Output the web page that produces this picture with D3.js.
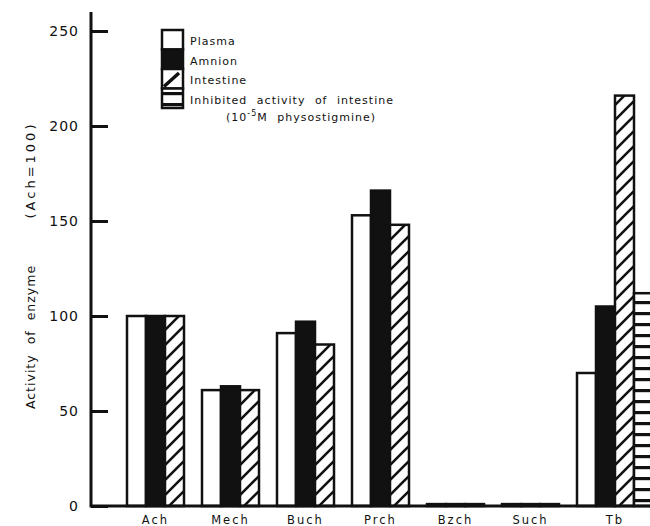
<!DOCTYPE html>
<html>
<head>
<meta charset="utf-8">
<script src="https://cdn.jsdelivr.net/npm/d3@7"></script>
<style>
  body { margin: 0; background: #fff; }
  text { font-family: "DejaVu Sans", sans-serif; fill: #111; }
</style>
</head>
<body>
<div id="chart"></div>
<script>
// chart data
var categories = ["Ach", "Mech", "Buch", "Prch", "Bzch", "Such", "Tb"];
var seriesNames = ["Plasma", "Amnion", "Intestine", "Inhibited activity of intestine"];
var plasma    = [100, 61, 91, 153, 1, 1, 70];
var amnion    = [100, 63, 97, 166, 1, 1, 105];
var intestine = [100, 61, 85, 148, 1, 1, 216];
var inhibited = [null, null, null, null, null, null, 112];
var yTicks = [0, 50, 100, 150, 200, 250];

var seriesValues = [plasma, amnion, intestine, inhibited];

var svgWidth = 650;
var svgHeight = 526;

var svg = d3.select("#chart")
  .append("svg")
  .attr("width", svgWidth)
  .attr("height", svgHeight);

// fill patterns: diagonal hatch and horizontal stripes
var defs = svg.append("defs");
defs.append("pattern")
  .attr("id", "diag")
  .attr("patternUnits", "userSpaceOnUse")
  .attr("width", 15).attr("height", 15)
  .call(p => {
    p.append("rect").attr("width", 15).attr("height", 15).attr("fill", "#fff");
    p.append("path")
      .attr("d", "M-2,17 L17,-2 M-4,4 L4,-4 M11,19 L19,11")
      .attr("stroke", "#111").attr("stroke-width", 2.6);
  });
defs.append("pattern")
  .attr("id", "horiz")
  .attr("patternUnits", "userSpaceOnUse")
  .attr("width", 10).attr("height", 11)
  .call(p => {
    p.append("rect").attr("width", 10).attr("height", 11).attr("fill", "#fff");
    p.append("rect").attr("y", 4).attr("width", 10).attr("height", 3.2).attr("fill", "#111");
  });

var fills = ["#fff", "#111", "url(#diag)", "url(#horiz)"];

// scales
var x0 = d3.scaleBand()
  .domain(categories)
  .range([127, 634])
  .paddingInner(0.24)
  .paddingOuter(0);

var x1 = d3.scaleBand()
  .domain(seriesNames)
  .range([0, x0.bandwidth() * 4 / 3]);

var y = d3.scaleLinear()
  .domain([0, 250])
  .range([506, 31]);

var axisX = 91;

// y axis with inward ticks
var yAxis = d3.axisLeft(y)
  .tickValues(yTicks)
  .tickSizeInner(-17)
  .tickSizeOuter(0)
  .tickPadding(12);

var yAxisG = svg.append("g")
  .attr("transform", `translate(${axisX},0)`)
  .call(yAxis);
yAxisG.select(".domain").remove();
yAxisG.selectAll(".tick line").attr("stroke", "#111").attr("stroke-width", 3);
yAxisG.selectAll(".tick text")
  .attr("fill", "#111")
  .style("font-size", "14px")
  .style("letter-spacing", "1px")
  .style("font-family", "DejaVu Sans, sans-serif");

// bars
categories.forEach(function(cat, i) {
  seriesValues.forEach(function(vals, s) {
    var v = vals[i];
    if (v == null) return;
    svg.append("rect")
      .attr("x", x0(cat) + x1(seriesNames[s]))
      .attr("y", y(v))
      .attr("width", x1.bandwidth())
      .attr("height", y(0) - y(v))
      .attr("fill", fills[s])
      .attr("stroke", "#111")
      .attr("stroke-width", 2.5);
  });
});

// axis lines
svg.append("line")
  .attr("x1", axisX).attr("x2", axisX)
  .attr("y1", y(0) + 1.5).attr("y2", 12)
  .attr("stroke", "#111").attr("stroke-width", 3);
svg.append("line")
  .attr("x1", axisX).attr("x2", svgWidth)
  .attr("y1", y(0)).attr("y2", y(0))
  .attr("stroke", "#111").attr("stroke-width", 3);

// category labels, centred under the bars that are drawn
svg.selectAll(".catLabel")
  .data(categories)
  .enter()
  .append("text")
  .attr("class", "catLabel")
  .attr("x", function(d, i) {
    var n = seriesValues.filter(vals => vals[i] != null).length;
    return x0(d) + n * x1.bandwidth() / 2;
  })
  .attr("y", 524)
  .attr("text-anchor", "middle")
  .style("font-size", "11.5px")
  .style("letter-spacing", "2px")
  .text(d => d);

// y axis title
svg.append("text")
  .attr("transform", "translate(35,170) rotate(-90)")
  .attr("text-anchor", "middle")
  .style("font-size", "13px")
  .style("letter-spacing", "3px")
  .text("(Ach=100)");
svg.append("text")
  .attr("transform", "translate(35,337) rotate(-90)")
  .attr("text-anchor", "middle")
  .style("font-size", "12.5px")
  .style("letter-spacing", "1px")
  .style("word-spacing", "5px")
  .text("Activity of enzyme");

// legend
var legX = 162, legY = 30, legW = 21, legH = 19.5;
var legend = svg.append("g");
seriesNames.forEach(function(name, s) {
  var ly = legY + s * legH;
  legend.append("rect")
    .attr("x", legX).attr("y", ly)
    .attr("width", legW).attr("height", legH)
    .attr("fill", s === 2 ? "#fff" : fills[s])
    .attr("stroke", "#111").attr("stroke-width", 2.5);
  if (s === 2) {
    legend.append("line")
      .attr("x1", legX + 2).attr("y1", ly + legH - 2)
      .attr("x2", legX + legW - 4).attr("y2", ly + 4)
      .attr("stroke", "#111").attr("stroke-width", 3.5);
  }
  legend.append("text")
    .attr("x", 190)
    .attr("y", ly + 15)
    .style("font-size", "11px")
    .style("letter-spacing", "1px")
    .style("word-spacing", "5px")
    .text(name);
});
var note = legend.append("text")
  .attr("x", 226)
  .attr("y", legY + 4 * legH + 13)
  .style("font-size", "11px")
  .style("letter-spacing", "1px")
  .style("word-spacing", "5px");
note.append("tspan").text("(10");
note.append("tspan").attr("dy", -5).style("font-size", "8px").text("-5");
note.append("tspan").attr("dy", 5).text("M physostigmine)");
</script>
</body>
</html>
